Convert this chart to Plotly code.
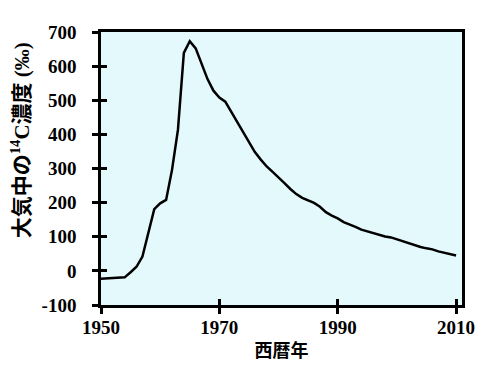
import plotly.graph_objects as go

years = list(range(1950, 2011))
c14 = [-23, -22, -21, -21, -19, -4, 12, 42, 110, 181,
       198, 208, 296, 413, 639, 673, 652, 608, 562, 528,
       508, 496, 466, 436, 408, 378, 348, 326, 306, 290,
       272, 257, 240, 225, 214, 206, 199, 188, 172, 162,
       154, 143, 137, 129, 121, 116, 111, 105, 101, 98,
       92, 86, 81, 76, 70, 66, 63, 57, 53, 49, 45]

x_ticks = [1950, 1970, 1990, 2010]
y_ticks = [-100, 0, 100, 200, 300, 400, 500, 600, 700]
x_range = [1950, 2011]
y_range = [-100, 700]

tickfont = dict(family="Liberation Serif, Times New Roman, serif", size=19, color="black")
mixfont = "Liberation Serif, Noto Sans CJK JP, serif"

fig = go.Figure()
fig.add_trace(go.Scatter(x=years, y=c14, mode="lines",
                         line=dict(color="black", width=2.5), showlegend=False))

fig.update_layout(
    width=496, height=374,
    margin=dict(l=93, r=42, t=24, b=77),
    paper_bgcolor="white",
    plot_bgcolor="#E4F9FC",
    xaxis=dict(range=x_range, tickvals=x_ticks, ticktext=["<b>%d</b>" % v for v in x_ticks],
               showgrid=False, zeroline=False, showline=True, mirror=True,
               linecolor="black", linewidth=2.5, ticks="outside", ticklen=6,
               tickwidth=2.5, tickcolor="black", tickfont=tickfont,
               ticklabelstandoff=-3,
               title=dict(text="<b>西暦年</b>", font=dict(family="Noto Sans CJK JP", size=18, color="black"),
                          standoff=8)),
    yaxis=dict(range=y_range, tickvals=y_ticks, ticktext=["<b>%d</b>" % v for v in y_ticks],
               showgrid=False, zeroline=False, showline=True, mirror=True,
               linecolor="black", linewidth=2.5, ticks="outside", ticklen=6,
               tickwidth=2.5, tickcolor="black", tickfont=tickfont,
               ticklabelstandoff=12),
    xaxis2=dict(range=x_range, tickvals=x_ticks, showticklabels=False, overlaying="x",
                showgrid=False, zeroline=False, showline=False, ticks="inside",
                ticklen=6, tickwidth=2.5, tickcolor="black", side="bottom"),
    yaxis2=dict(range=y_range, tickvals=y_ticks, showticklabels=False, overlaying="y",
                showgrid=False, zeroline=False, showline=False, ticks="inside",
                ticklen=6, tickwidth=2.5, tickcolor="black", side="left"),
)
fig.add_trace(go.Scatter(x=[], y=[], xaxis="x2", yaxis="y2", showlegend=False, hoverinfo="skip"))

fig.add_annotation(text="<b>大気中の<sup>14</sup>C濃度 (‰)</b>", textangle=-90,
                   xref="paper", yref="paper", x=-0.224, y=0.604,
                   xanchor="center", yanchor="middle", showarrow=False,
                   font=dict(family=mixfont, size=21, color="black"))

fig.write_html("out.html")
